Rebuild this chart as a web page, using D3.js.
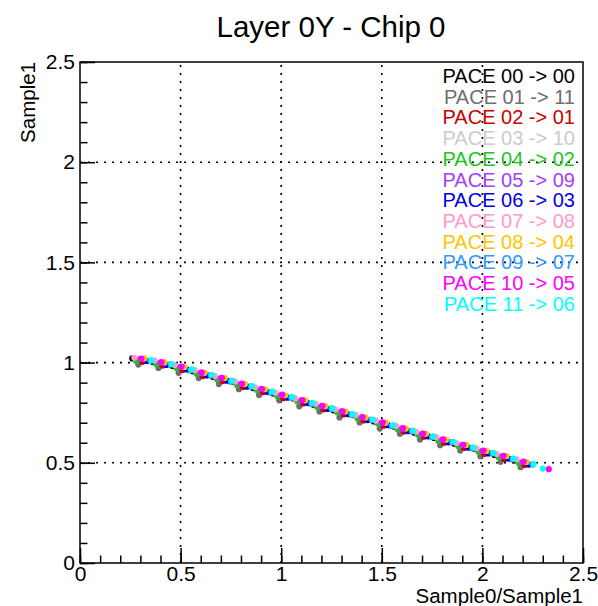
<!DOCTYPE html>
<html><head><meta charset="utf-8">
<script src="https://cdn.jsdelivr.net/npm/d3@7"></script>
<style>body{margin:0;background:#fff}svg{display:block}text{font-family:"Liberation Sans",Arial,Helvetica,sans-serif}</style>
</head><body>
<svg id="c" width="598" height="606"></svg>
<script>
const titleText = "Layer 0Y - Chip 0";
const xTitle = "Sample0/Sample1";
const yTitle = "Sample1";
const xTicks = [0, 0.5, 1, 1.5, 2, 2.5];
const yTicks = [0, 0.5, 1, 1.5, 2, 2.5];
const legendLabels = ["PACE 00 -> 00","PACE 01 -> 11","PACE 02 -> 01","PACE 03 -> 10","PACE 04 -> 02","PACE 05 -> 09","PACE 06 -> 03","PACE 07 -> 08","PACE 08 -> 04","PACE 09 -> 07","PACE 10 -> 05","PACE 11 -> 06"];
const colors = ["#000000","#6e6e6e","#cc0000","#cccccc","#1fc41f","#a040ff","#0000e6","#ff99cc","#ffc400","#3399ff","#ff00ff","#00ffff"];

const pace00 = [[0.26,1.021],[0.36,1.004],[0.46,0.983],[0.56,0.957],[0.66,0.929],[0.76,0.905],[0.86,0.873],[0.96,0.846],[1.06,0.821],[1.16,0.790],[1.26,0.762],[1.36,0.738],[1.46,0.706],[1.56,0.681],[1.66,0.651],[1.76,0.624],[1.86,0.595],[1.96,0.570],[2.06,0.539],[2.16,0.512]];
const pace01 = [[0.29,0.990],[0.39,0.973],[0.49,0.949],[0.59,0.923],[0.69,0.893],[0.79,0.867],[0.89,0.838],[0.99,0.812],[1.09,0.782],[1.19,0.756],[1.29,0.726],[1.39,0.701],[1.49,0.671],[1.59,0.645],[1.69,0.616],[1.79,0.588],[1.89,0.561],[1.99,0.533],[2.09,0.505],[2.19,0.478]];
const pace02 = [[0.31,1.004],[0.41,0.985],[0.51,0.963],[0.61,0.933],[0.71,0.908],[0.81,0.878],[0.91,0.852],[1.01,0.822],[1.11,0.796],[1.21,0.767],[1.31,0.741],[1.41,0.711],[1.51,0.685],[1.61,0.656],[1.71,0.630],[1.81,0.600],[1.91,0.574],[2.01,0.544],[2.11,0.519],[2.21,0.489]];
const pace03 = [[0.34,1.006],[0.44,0.991],[0.54,0.960],[0.64,0.937],[0.74,0.904],[0.84,0.881],[0.94,0.850],[1.04,0.826],[1.14,0.793],[1.24,0.770],[1.34,0.738],[1.44,0.715],[1.54,0.683],[1.64,0.659],[1.74,0.627],[1.84,0.603],[1.94,0.572],[2.04,0.548],[2.14,0.516],[2.24,0.492]];
const pace04 = [[0.28,1.008],[0.38,0.992],[0.48,0.973],[0.58,0.944],[0.68,0.918],[0.78,0.888],[0.88,0.862],[0.98,0.833],[1.08,0.807],[1.18,0.777],[1.28,0.751],[1.38,0.721],[1.48,0.696],[1.58,0.666],[1.68,0.640],[1.78,0.610],[1.88,0.584],[1.98,0.555],[2.08,0.529],[2.18,0.499]];
const pace05 = [[0.30,1.019],[0.40,1.000],[0.50,0.979],[0.60,0.949],[0.70,0.923],[0.80,0.894],[0.90,0.868],[1.00,0.838],[1.10,0.812],[1.20,0.782],[1.30,0.757],[1.40,0.727],[1.50,0.701],[1.60,0.671],[1.70,0.645],[1.80,0.616],[1.90,0.590],[2.00,0.560],[2.10,0.534],[2.20,0.504]];
const pace06 = [[0.33,1.008],[0.43,0.988],[0.53,0.966],[0.63,0.936],[0.73,0.910],[0.83,0.880],[0.93,0.854],[1.03,0.825],[1.13,0.799],[1.23,0.769],[1.33,0.743],[1.43,0.713],[1.53,0.688],[1.63,0.658],[1.73,0.632],[1.83,0.602],[1.93,0.576],[2.03,0.547],[2.13,0.521],[2.23,0.491]];
const pace07 = [[0.27,1.024],[0.37,1.010],[0.47,0.988],[0.57,0.962],[0.67,0.933],[0.77,0.906],[0.87,0.877],[0.97,0.850],[1.07,0.821],[1.17,0.795],[1.27,0.766],[1.37,0.739],[1.47,0.710],[1.57,0.684],[1.67,0.655],[1.77,0.628],[1.87,0.599],[1.97,0.572],[2.07,0.544],[2.17,0.517]];
const pace08 = [[0.32,1.021],[0.42,1.001],[0.52,0.978],[0.62,0.949],[0.72,0.923],[0.82,0.893],[0.92,0.867],[1.02,0.837],[1.12,0.812],[1.22,0.782],[1.32,0.756],[1.42,0.726],[1.52,0.700],[1.62,0.671],[1.72,0.645],[1.82,0.615],[1.92,0.589],[2.02,0.559],[2.12,0.534],[2.22,0.504]];
const pace09 = [[0.35,1.010],[0.45,0.990],[0.55,0.962],[0.65,0.936],[0.75,0.906],[0.85,0.881],[0.95,0.851],[1.05,0.825],[1.15,0.795],[1.25,0.770],[1.35,0.740],[1.45,0.714],[1.55,0.684],[1.65,0.658],[1.75,0.629],[1.85,0.603],[1.95,0.573],[2.05,0.547],[2.15,0.518],[2.25,0.492]];
const pace10 = [[0.305,1.020],[0.405,1.002],[0.505,0.980],[0.605,0.951],[0.705,0.924],[0.805,0.895],[0.905,0.868],[1.005,0.840],[1.105,0.813],[1.205,0.784],[1.305,0.757],[1.405,0.728],[1.505,0.702],[1.605,0.673],[1.705,0.646],[1.805,0.617],[1.905,0.590],[2.005,0.561],[2.105,0.535],[2.205,0.506],[2.33,0.468]];
const pace11 = [[0.355,1.011],[0.455,0.993],[0.555,0.966],[0.655,0.939],[0.755,0.910],[0.855,0.883],[0.955,0.855],[1.055,0.828],[1.155,0.799],[1.255,0.772],[1.355,0.743],[1.455,0.716],[1.555,0.688],[1.655,0.661],[1.755,0.632],[1.855,0.605],[1.955,0.577],[2.055,0.550],[2.155,0.521],[2.255,0.494],[2.30,0.471]];
const series = [pace00,pace01,pace02,pace03,pace04,pace05,pace06,pace07,pace08,pace09,pace10,pace11];

const L = 80, R = 583, T = 62, B = 563;
const x = d3.scaleLinear().domain([0, 2.5]).range([L, R]);
const y = d3.scaleLinear().domain([0, 2.5]).range([B, T]);
const svg = d3.select("#c");

// grid
const grid = svg.append("g").attr("stroke", "#000").attr("stroke-width", 1.6).attr("stroke-dasharray", "2,6");
grid.selectAll("line.gx").data(xTicks.slice(1, -1)).join("line")
  .attr("x1", d => x(d)).attr("x2", d => x(d)).attr("y1", B).attr("y2", T);
grid.selectAll("line.gy").data(yTicks.slice(1, -1)).join("line")
  .attr("y1", d => y(d)).attr("y2", d => y(d)).attr("x1", L).attr("x2", R);

// points
series.forEach((s, i) => {
  svg.append("g").attr("fill", colors[i]).selectAll("circle").data(s).join("circle")
    .attr("cx", d => x(d[0])).attr("cy", d => y(d[1])).attr("r", 3.1);
});

// frame
svg.append("rect").attr("x", L).attr("y", T).attr("width", R - L).attr("height", B - T)
  .attr("fill", "none").attr("stroke", "#000").attr("stroke-width", 1.5);

// axes
const minor = d3.range(0, 2.5001, 0.1);
const styleAxis = g => { g.select(".domain").remove(); g.selectAll("line").attr("stroke", "#000").attr("stroke-width", 1.5); g.selectAll("text").attr("font-size", 21).attr("fill", "#000").attr("font-family", "Liberation Sans, Arial, sans-serif"); };
svg.append("g").attr("transform", `translate(0,${B})`)
  .call(d3.axisBottom(x).tickValues(minor).tickSize(-7.5).tickFormat("")).call(styleAxis);
svg.append("g").attr("transform", `translate(0,${B})`)
  .call(d3.axisBottom(x).tickValues(xTicks).tickSize(-15).tickPadding(3).tickFormat(d3.format("~g"))).call(styleAxis);
svg.append("g").attr("transform", `translate(${L},0)`)
  .call(d3.axisLeft(y).tickValues(minor).tickSize(-7.5).tickFormat("")).call(styleAxis);
svg.append("g").attr("transform", `translate(${L},0)`)
  .call(d3.axisLeft(y).tickValues(yTicks).tickSize(-15).tickPadding(5).tickFormat(d3.format("~g"))).call(styleAxis);

// titles
svg.append("text").attr("x", 331).attr("y", 37).attr("text-anchor", "middle").attr("font-size", 29.5).text(titleText);
svg.append("text").attr("x", R).attr("y", 603).attr("text-anchor", "end").attr("font-size", 20.5).text(xTitle);
svg.append("text").attr("transform", `translate(35,${T}) rotate(-90)`).attr("text-anchor", "end").attr("font-size", 20.5).text(yTitle);

// legend
svg.append("g").selectAll("text").data(legendLabels).join("text")
  .attr("x", 575).attr("y", (d, i) => 83 + i * 20.7).attr("text-anchor", "end")
  .attr("font-size", 20).attr("fill", (d, i) => colors[i]).text(d => d);
</script>
</body></html>
